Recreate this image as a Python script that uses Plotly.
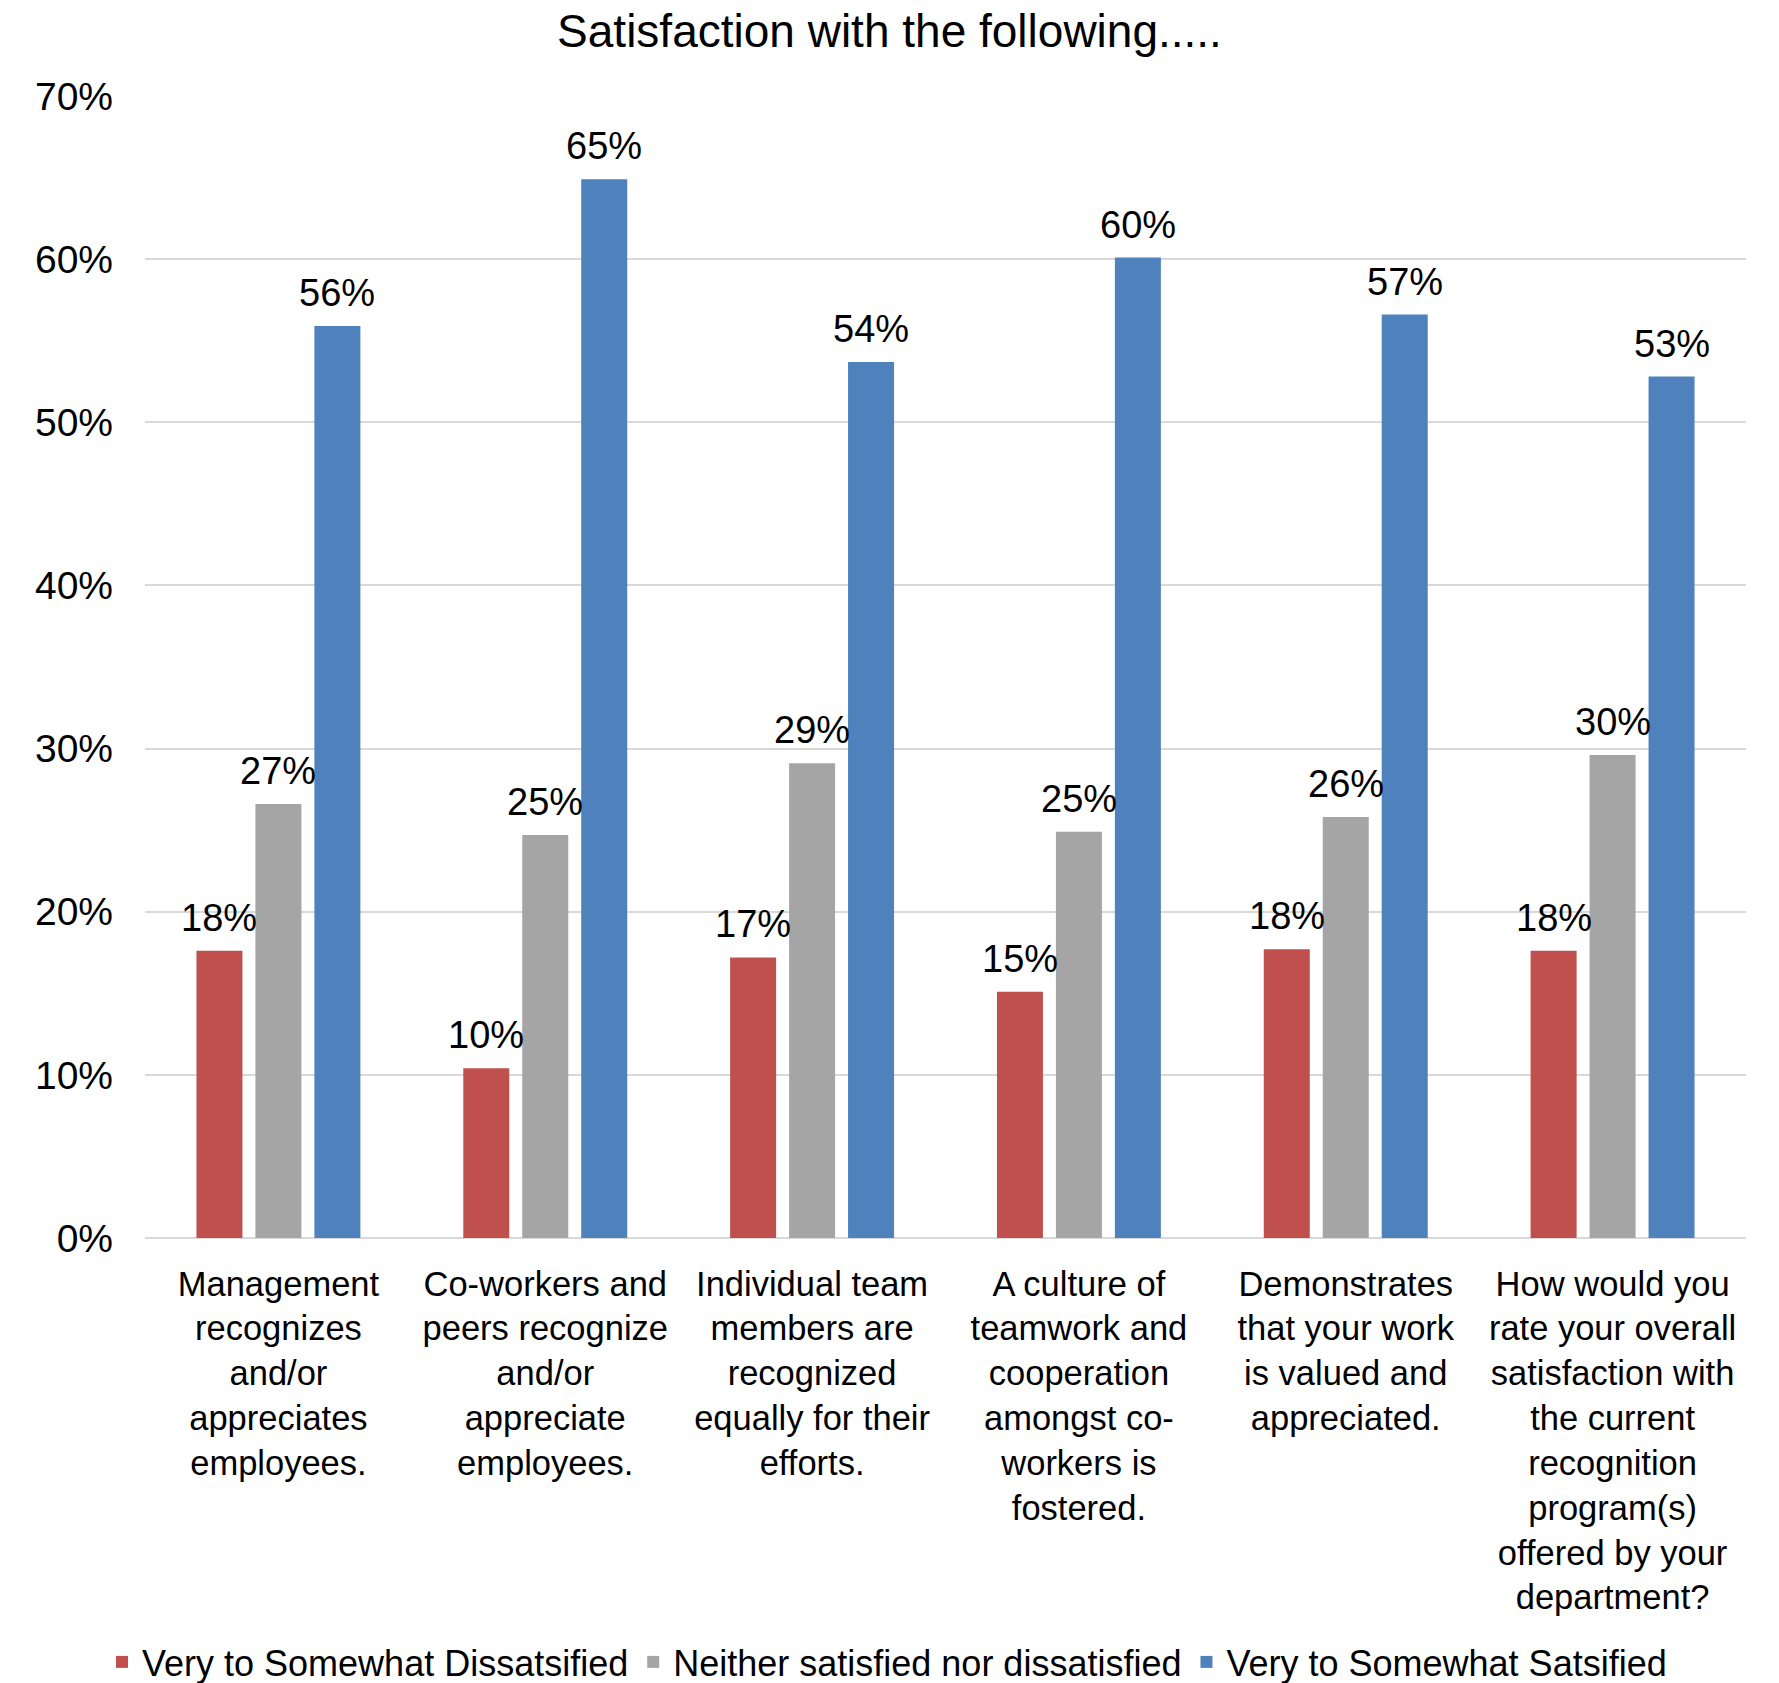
import plotly.graph_objects as go

categories = [
    "Management<br>recognizes<br>and/or<br>appreciates<br>employees.",
    "Co-workers and<br>peers recognize<br>and/or<br>appreciate<br>employees.",
    "Individual team<br>members are<br>recognized<br>equally for their<br>efforts.",
    "A culture of<br>teamwork and<br>cooperation<br>amongst co-<br>workers is<br>fostered.",
    "Demonstrates<br>that your work<br>is valued and<br>appreciated.",
    "How would you<br>rate your overall<br>satisfaction with<br>the current<br>recognition<br>program(s)<br>offered by your<br>department?",
]
series_names = [
    "Very to Somewhat Dissatsified",
    "Neither satisfied nor dissatisfied",
    "Very to Somewhat Satsified",
]
dissatisfied = [0.176, 0.104, 0.172, 0.151, 0.177, 0.176]
neutral = [0.266, 0.247, 0.291, 0.249, 0.258, 0.296]
satisfied = [0.559, 0.649, 0.537, 0.601, 0.566, 0.528]
series_values = [dissatisfied, neutral, satisfied]
colors = ["#C0504D", "#A5A5A5", "#4F81BD"]

FONT = "Liberation Sans"
W, H = 1779, 1683
L, R, T, B = 145, 33, 96, 445

x_idx = list(range(len(categories)))
fig = go.Figure()
for name, vals, col in zip(series_names, series_values, colors):
    fig.add_trace(go.Bar(x=x_idx, y=vals, name=name, marker=dict(color=col, line=dict(width=0))))

# data labels above the bars
plot_w = W - L - R
cat_w = plot_w / len(categories)
bargap = 0.337
bargroupgap = 0.22
slot = cat_w * (1 - bargap) / 3
for i, vals in enumerate(series_values):
    for j, v in enumerate(vals):
        fig.add_annotation(
            x=j, y=v, text=f"{v:.0%}", showarrow=False,
            xref="x", yref="y", xanchor="center", yanchor="bottom",
            xshift=(i - 1) * slot, yshift=10,
            font=dict(family=FONT, size=38, color="#000000"),
        )

fig.update_layout(
    width=W, height=H,
    margin=dict(l=L, r=R, t=T, b=B, autoexpand=False),
    paper_bgcolor="white", plot_bgcolor="white",
    font=dict(family=FONT, color="#000000"),
    title=dict(text="Satisfaction with the following.....", x=0.5, xref="container",
               y=1 - 31 / H, yref="container", xanchor="center", yanchor="middle",
               font=dict(family=FONT, size=46, color="#000000")),
    barmode="group", bargap=bargap, bargroupgap=bargroupgap,
    showlegend=True,
    legend=dict(orientation="h", x=102 / W, xref="container", xanchor="left",
                y=(H - 1662) / H, yref="container", yanchor="middle",
                font=dict(family=FONT, size=36, color="#000000"),
                traceorder="normal", itemsizing="constant"),
)
fig.update_xaxes(
    tickvals=x_idx, ticktext=categories, range=[-0.5, len(categories) - 0.5],
    tickfont=dict(family=FONT, size=34.5, color="#000000"),
    showgrid=False, showline=False, zeroline=False, ticks="", automargin=False,
    ticklabelstandoff=22, tickangle=0,
)
fig.update_yaxes(
    range=[0, 0.7], dtick=0.1, tickformat=".0%",
    tickfont=dict(family=FONT, size=39, color="#000000"),
    showgrid=True, gridcolor="#D9D9D9", gridwidth=2,
    zeroline=True, zerolinecolor="#D9D9D9", zerolinewidth=2,
    showline=False, ticks="", automargin=False, ticklabelstandoff=31,
)

fig.write_html("out.html")
